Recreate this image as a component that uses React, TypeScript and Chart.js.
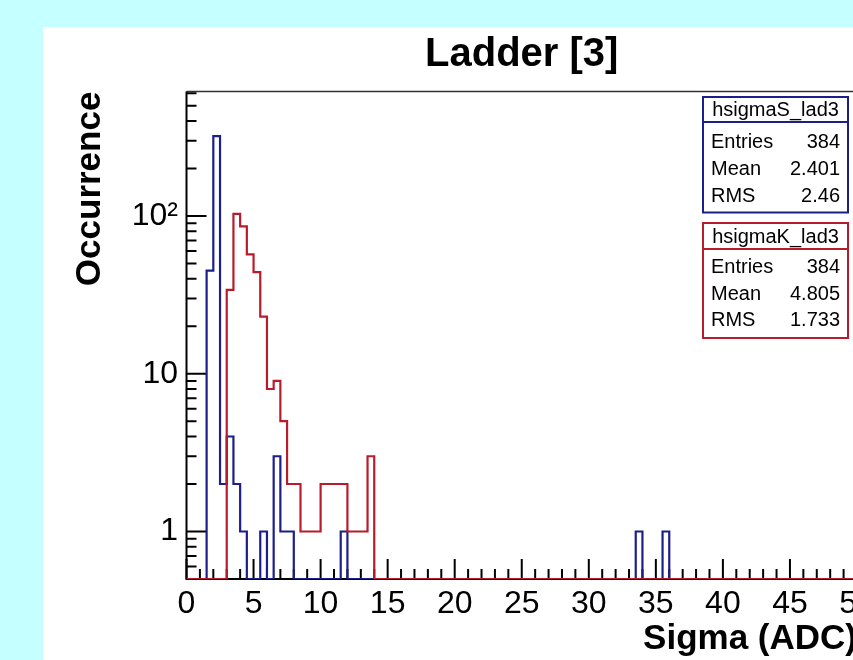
import React, { useEffect, useRef } from 'react';
import { Chart, registerables } from 'chart.js';

Chart.register(...registerables);

// ---- data ----
const xMin = 0;
const xMax = 50;
const binWidth = 0.5;
const yMin = 0.5;
const yMax = 614;

const xTickStep = 5;
const yTickValues = [1, 10, 100];
const yTickLabels = ['1', '10', '10²'];

// hsigmaS_lad3 (blue): low edges of non-empty bins and their counts
const sigmaSBinLow = [1.5, 2.0, 2.5, 3.0, 3.5, 4.0, 5.5, 6.5, 7.0, 7.5, 11.5, 33.5, 35.5];
const sigmaSCounts = [45, 321, 2, 4, 2, 1, 1, 3, 1, 1, 1, 1, 1];

// hsigmaK_lad3 (red)
const sigmaKBinLow = [3.0, 3.5, 4.0, 4.5, 5.0, 5.5, 6.0, 6.5, 7.0, 7.5, 8.0, 8.5, 9.0, 9.5, 10.0, 10.5, 11.0, 11.5, 12.0, 12.5, 13.0, 13.5];
const sigmaKCounts = [34, 103, 86, 57, 44, 23, 8, 9, 5, 2, 2, 1, 1, 1, 2, 2, 2, 2, 1, 1, 1, 3];

const statLabels = ['Entries', 'Mean', 'RMS'];
const statsSName = 'hsigmaS_lad3';
const statsSValues = ['384', '2.401', '2.46'];
const statsKName = 'hsigmaK_lad3';
const statsKValues = ['384', '4.805', '1.733'];

const titleText = 'Ladder [3]';
const xTitle = 'Sigma (ADC)';
const yTitle = 'Occurrence';

// ---- styles ----
const FONT = "'Liberation Sans', Arial, Helvetica, sans-serif";
const BLUE = '#1c1e8a';
const RED = '#b81c2c';
const BG = '#c6ffff';

function buildSteps(lows: number[], counts: number[]) {
  const n = Math.round((xMax - xMin) / binWidth);
  const full: number[] = new Array(n).fill(0);
  lows.forEach((lo, i) => {
    full[Math.round((lo - xMin) / binWidth)] = counts[i];
  });
  const pts = full.map((c, i) => ({ x: xMin + i * binWidth, y: c > 0 ? c : yMin }));
  pts.push({ x: xMax, y: full[n - 1] > 0 ? full[n - 1] : yMin });
  return pts;
}

const bgPlugin = {
  id: 'bgPlugin',
  beforeDraw(chart: any) {
    const { ctx, width, height } = chart;
    ctx.save();
    ctx.fillStyle = BG;
    ctx.fillRect(0, 0, width, height);
    ctx.fillStyle = '#ffffff';
    ctx.fillRect(43, 27, width - 43, height - 27);
    ctx.restore();
  },
};

const framePlugin = {
  id: 'framePlugin',
  beforeDatasetsDraw(chart: any) {
    const { ctx, chartArea } = chart;
    const xs = chart.scales.x;
    const ys = chart.scales.y;
    const { left, right, top, bottom } = chartArea;
    ctx.save();
    // top & right frame
    ctx.lineWidth = 1.5;
    ctx.strokeStyle = '#333';
    ctx.beginPath();
    ctx.moveTo(left, top);
    ctx.lineTo(right, top);
    ctx.lineTo(right, bottom);
    ctx.stroke();
    // axes
    ctx.strokeStyle = '#000';
    ctx.lineWidth = 2;
    ctx.beginPath();
    ctx.moveTo(left, top);
    ctx.lineTo(left, bottom);
    ctx.lineTo(right, bottom);
    ctx.stroke();
    // y ticks (log)
    ctx.lineWidth = 2;
    ctx.beginPath();
    for (const d of [0.1, 1, 10, 100]) {
      for (let k = 1; k <= 9; k++) {
        const v = k * d;
        if (v < yMin || v > yMax) continue;
        const y = ys.getPixelForValue(v);
        const len = k === 1 ? 20 : 10;
        ctx.moveTo(left, y);
        ctx.lineTo(left + len, y);
      }
    }
    // x ticks
    for (let u = xMin; u <= xMax; u += 1) {
      const x = xs.getPixelForValue(u);
      const len = u % 5 === 0 ? 20 : 10;
      ctx.moveTo(x, bottom);
      ctx.lineTo(x, bottom - len);
    }
    ctx.stroke();
    ctx.restore();
  },
};

function drawStatsBox(
  ctx: CanvasRenderingContext2D,
  x1: number, x2: number, y1: number, ySep: number, y2: number,
  color: string, name: string, values: string[], rowYs: number[]
) {
  ctx.save();
  ctx.fillStyle = '#fff';
  ctx.fillRect(x1, y1, x2 - x1, y2 - y1);
  ctx.strokeStyle = color;
  ctx.lineWidth = 2;
  ctx.strokeRect(x1, y1, x2 - x1, y2 - y1);
  ctx.beginPath();
  ctx.moveTo(x1, ySep);
  ctx.lineTo(x2, ySep);
  ctx.stroke();
  ctx.fillStyle = '#000';
  ctx.font = `20px ${FONT}`;
  ctx.textBaseline = 'middle';
  ctx.textAlign = 'center';
  ctx.fillText(name, (x1 + x2) / 2, (y1 + ySep) / 2 + 1);
  statLabels.forEach((lab, i) => {
    ctx.textAlign = 'left';
    ctx.fillText(lab, x1 + 8, rowYs[i]);
    ctx.textAlign = 'right';
    ctx.fillText(values[i], x2 - 8, rowYs[i]);
  });
  ctx.restore();
}

const statsPlugin = {
  id: 'statsPlugin',
  afterDraw(chart: any) {
    const { ctx } = chart;
    drawStatsBox(ctx, 703, 848, 97, 122, 212.5, BLUE, statsSName, statsSValues, [142, 169, 196]);
    drawStatsBox(ctx, 703, 848, 223, 249, 338, RED, statsKName, statsKValues, [267, 294, 320]);
  },
};

export default function App() {
  const canvasRef = useRef<HTMLCanvasElement | null>(null);

  useEffect(() => {
    const canvas = canvasRef.current;
    if (!canvas) return;
    Chart.defaults.font.family = FONT;
    const chart = new Chart(canvas, {
      type: 'line',
      data: {
        datasets: [
          {
            label: statsKName,
            data: buildSteps(sigmaKBinLow, sigmaKCounts),
            borderColor: RED,
            borderWidth: 2.2,
            pointRadius: 0,
            fill: false,
            stepped: 'before',
            order: 1,
          },
          {
            label: statsSName,
            data: buildSteps(sigmaSBinLow, sigmaSCounts),
            borderColor: BLUE,
            borderWidth: 2.2,
            pointRadius: 0,
            fill: false,
            stepped: 'before',
            order: 2,
          },
        ],
      },
      options: {
        responsive: false,
        animation: false,
        layout: { padding: { left: 43, right: 43, top: 27, bottom: 0 } },
        plugins: {
          legend: { display: false },
          tooltip: { enabled: false },
          title: {
            display: true,
            text: titleText,
            fullSize: false,
            color: '#000',
            font: { size: 40, weight: 'bold', family: FONT },
            padding: { top: 4, bottom: 12.6 },
          },
        },
        scales: {
          x: {
            type: 'linear',
            min: xMin,
            max: xMax,
            grid: { display: false, drawTicks: false },
            border: { display: false },
            ticks: {
              stepSize: xTickStep,
              autoSkip: false,
              maxRotation: 0,
              color: '#000',
              padding: 6,
              font: { size: 32, family: FONT },
              callback: (v: any) => String(v),
            },
            title: {
              display: true,
              text: xTitle,
              align: 'end',
              color: '#000',
              font: { size: 35, weight: 'bold', family: FONT },
              padding: { top: 0, bottom: 0 },
            },
            afterFit: (s: any) => {
              s.height = 81;
            },
          },
          y: {
            type: 'logarithmic',
            min: yMin,
            max: yMax,
            grid: { display: false, drawTicks: false },
            border: { display: false },
            afterBuildTicks: (s: any) => {
              s.ticks = yTickValues.map((v) => ({ value: v }));
            },
            ticks: {
              autoSkip: false,
              color: '#000',
              padding: 8.5,
              font: { size: 32, family: FONT },
              callback: (v: any) => {
                const i = yTickValues.indexOf(Number(v));
                return i >= 0 ? yTickLabels[i] : '';
              },
            },
            title: {
              display: true,
              text: yTitle,
              align: 'end',
              color: '#000',
              font: { size: 35, weight: 'bold', family: FONT },
              padding: { top: 26, bottom: 0 },
            },
            afterFit: (s: any) => {
              s.width = 143.5;
            },
          },
        },
      } as any,
      plugins: [bgPlugin, framePlugin, statsPlugin],
    });
    return () => chart.destroy();
  }, []);

  return (
    <div style={{ position: 'fixed', left: 0, top: 0, width: 853, height: 660, overflow: 'hidden', background: BG }}>
      <canvas ref={canvasRef} width={900} height={660} style={{ display: 'block', width: 900, height: 660 }} />
    </div>
  );
}
